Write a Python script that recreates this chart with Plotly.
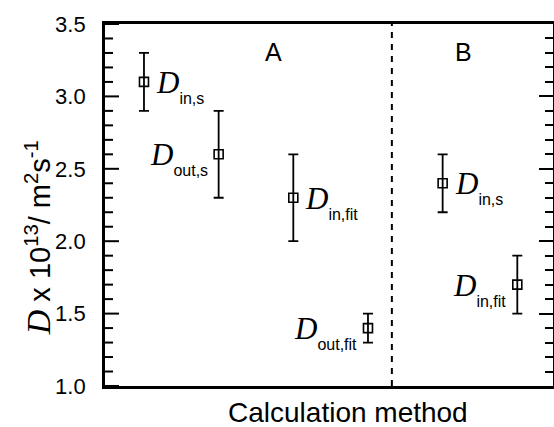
import numpy as np
import plotly.graph_objects as go

# ---- data ----
positions = [1, 2, 3, 4, 5, 6]
values = [3.1, 2.6, 2.3, 1.4, 2.4, 1.7]
err_plus = [0.2, 0.3, 0.3, 0.1, 0.2, 0.2]
err_minus = [0.2, 0.3, 0.3, 0.1, 0.2, 0.2]
subscripts = ["in,s", "out,s", "in,fit", "out,fit", "in,s", "in,fit"]
label_side = ["right", "left", "right", "left", "right", "left"]
group_names = ["A", "B"]
group_centers = [2.74, 5.28]
divider_x = 4.32
y_min, y_max, y_major, y_minor = 1.0, 3.5, 0.5, 0.1
x_range = [0.478, 6.478]

SANS = "Liberation Sans, Arial, sans-serif"
SERIF = "Liberation Serif"

fig = go.Figure()
fig.add_trace(go.Scatter(
    x=positions, y=values, mode="markers",
    marker=dict(symbol="square-open", size=9, color="black", line=dict(width=1.6)),
    error_y=dict(type="data", array=err_plus, arrayminus=err_minus,
                 color="black", thickness=1.8, width=5),
    showlegend=False, cliponaxis=False,
))
# invisible trace to attach the right-hand tick axis
fig.add_trace(go.Scatter(x=[positions[0]], y=[values[0]], yaxis="y2",
                         mode="markers", marker=dict(opacity=0),
                         showlegend=False, hoverinfo="skip"))

annotations = []
for xp, yv, sub, side in zip(positions, values, subscripts, label_side):
    txt = (f'<span style="font-family:{SERIF};font-size:31px"><i>D</i></span>'
           f'<span style="font-size:16px;baseline-shift:-11px">{sub}</span>')
    annotations.append(dict(
        x=xp, y=yv, xref="x", yref="y", text=txt, showarrow=False,
        xanchor="left" if side == "right" else "right", yanchor="middle",
        xshift=10 if side == "right" else -9, yshift=-4,
        font=dict(family=SANS, size=23, color="black"),
    ))
for name, cx in zip(group_names, group_centers):
    annotations.append(dict(
        x=cx, y=3.31, xref="x", yref="y", text=name, showarrow=False,
        xanchor="center", yanchor="middle",
        font=dict(family=SANS, size=25, color="black"),
    ))
annotations.append(dict(
    x=0.542, y=-0.072, xref="paper", yref="paper", text="Calculation method",
    showarrow=False, xanchor="center", yanchor="middle",
    font=dict(family=SANS, size=28, color="black"),
))
annotations.append(dict(
    x=-0.148, y=0.41, xref="paper", yref="paper", textangle=-90,
    text=(f'<span style="font-family:{SERIF};font-size:34px"><i>D</i></span>'
          ' x 10<sup>13</sup>/ m<sup>2</sup>s<sup>-1</sup>'),
    showarrow=False, xanchor="center", yanchor="middle",
    font=dict(family=SANS, size=29, color="black"),
))

fig.add_shape(type="line", x0=divider_x, x1=divider_x, y0=0, y1=1,
              xref="x", yref="paper",
              line=dict(color="black", width=2, dash="6px,6px"))

# inward ticks on the left axis, placed at the axis tick values
n_minor = int(round((y_max - y_min) / y_minor))
for k in range(n_minor + 1):
    yv = y_min + k * y_minor
    is_major = abs((yv - y_min) / y_major - round((yv - y_min) / y_major)) < 1e-6
    fig.add_shape(type="line", xref="x", yref="y", xsizemode="pixel",
                  xanchor=x_range[0], x0=0, x1=14 if is_major else 8,
                  y0=yv, y1=yv, line=dict(color="black", width=2))

fig.update_layout(
    width=554, height=427,
    margin=dict(l=105, r=1, t=24, b=41),
    paper_bgcolor="white", plot_bgcolor="white",
    annotations=annotations,
    xaxis=dict(range=x_range, showticklabels=False, ticks="",
               showgrid=False, zeroline=False, showline=True,
               linecolor="black", linewidth=2.5, mirror=True),
    yaxis=dict(range=[y_min, y_max], tickmode="linear", tick0=y_min, dtick=y_major,
               tickformat=".1f", ticks="", ticksuffix="  ",
               showgrid=False, zeroline=False, showline=True,
               linecolor="black", linewidth=2.5,
               tickfont=dict(family=SANS, size=22, color="black")),
    yaxis2=dict(range=[y_min, y_max], tickmode="linear", tick0=y_min, dtick=y_major,
                ticks="inside", ticklen=14, tickwidth=2, tickcolor="black",
                minor=dict(dtick=y_minor, tick0=y_min, ticks="inside", ticklen=8,
                           tickwidth=2, tickcolor="black", showgrid=False),
                showgrid=False, zeroline=False, showline=True,
                linecolor="black", linewidth=1.5,
                showticklabels=False, overlaying="y", side="right"),
)

fig.write_html("out.html")
